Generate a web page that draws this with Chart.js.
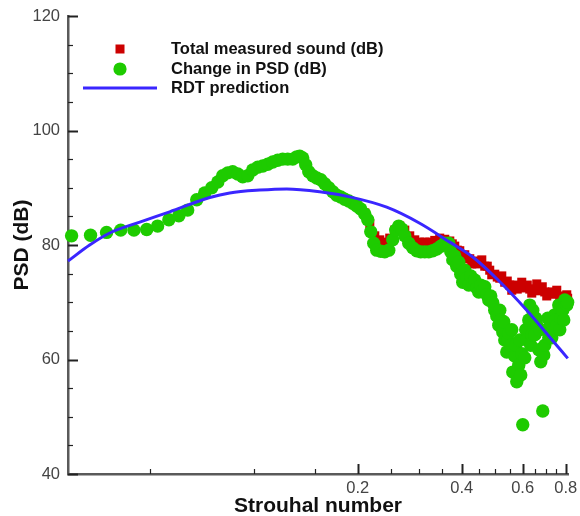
<!DOCTYPE html>
<html><head><meta charset="utf-8">
<script src="https://cdn.jsdelivr.net/npm/chart.js@4"></script>
<style>html,body{margin:0;padding:0;background:#fff}</style>
</head><body>
<canvas id="c" width="580" height="516"></canvas>
<script>
// ---- data ----
const greenSt = [0.0297,0.0337,0.0375,0.0412,0.0450,0.0490,0.0527,0.0568,0.0607,0.0644,0.0684,0.0721,
  0.0756,0.0787,0.0813,0.0841,0.0869,0.0899,0.0929,0.0961,0.0993,0.1027,0.1062,0.1098,0.1135,0.1173,
  0.1213,0.1254,0.1297,0.1332,0.1359,0.1386,0.1414,0.1443,0.1482,0.1522,0.1563,0.1605,0.1649,0.1693,
  0.1739,0.1786,0.1834,0.1884,0.1934,0.1987,0.2040,0.2096,0.2138,0.2181,0.2225,0.2270,0.2331,0.2394,
  0.2459,0.2525,0.2576,0.2628,0.2682,0.2736,0.2810,0.2885,0.2963,0.3043,0.3126,0.3210,0.3297,0.3386,
  0.3478,0.3571,0.3668,0.3717,0.3767,0.3817,0.3869,0.3921,0.3973,0.4027,0.4081,0.4136,0.4191,0.4247,
  0.4304,0.4362,0.4421,0.4480,0.4540,0.4601,0.4663,0.4726,0.4789,0.4853,0.4918,0.4984,0.5051,0.5119,
  0.5153,0.5187,0.5257,0.5292,0.5327,0.5399,0.5435,0.5471,0.5544,0.5582,0.5619,0.5694,0.5732,0.5771,
  0.5848,0.5887,0.5927,0.5966,0.6006,0.6087,0.6127,0.6169,0.6251,0.6293,0.6335,0.6377,0.6420,0.6506,
  0.6550,0.6594,0.6682,0.6727,0.6772,0.6863,0.6908,0.6955,0.7048,0.7095,0.7143,0.7239,0.7287,0.7336,
  0.7434,0.7484,0.7534,0.7635,0.7686,0.7737,0.7841,0.7894,0.7946,0.8053,0.8100];
const greenDb = [81.6,81.7,82.2,82.6,82.6,82.7,83.3,84.4,85.1,86.1,87.9,89.1,
  90.0,91.0,92.1,92.6,92.8,92.4,91.9,92.1,93.1,93.6,93.8,94.1,94.5,94.8,
  95.0,95.0,95.0,95.4,95.5,95.2,94.0,92.8,92.1,91.7,91.4,90.7,90.0,89.3,
  88.7,88.4,88.0,87.7,87.3,86.8,86.3,85.4,84.4,82.3,80.3,79.1,78.9,78.8,
  79.1,80.9,82.6,83.3,82.8,81.6,80.3,79.5,79.0,78.8,78.8,78.8,79.0,79.3,
  79.8,80.3,80.3,78.8,77.4,78.1,76.3,77.0,74.9,73.5,75.6,74.2,73.0,74.6,
  73.4,73.9,72.5,71.8,73.0,72.1,72.7,71.3,70.4,71.1,69.9,68.6,67.6,66.0,
  68.6,66.9,64.8,66.6,63.4,61.3,63.4,64.6,62.5,65.2,57.8,60.6,62.5,56.1,
  59.0,63.4,57.3,61.0,48.6,60.3,65.2,63.4,66.9,69.5,62.5,64.3,68.6,64.3,
  67.2,66.0,61.7,65.2,59.6,51.0,60.8,62.5,65.2,67.2,63.8,66.6,63.8,65.2,
  67.8,66.9,66.0,69.5,65.2,67.2,68.6,66.9,70.4,69.5,70.0];

const redSt = [0.2000,0.2096,0.2167,0.2240,0.2316,0.2394,0.2475,0.2559,0.2646,0.2736,0.2828,0.2924,
  0.3023,0.3126,0.3232,0.3341,0.3454,0.3571,0.3693,0.3755,0.3817,0.3882,0.3947,0.4013,0.4081,0.4149,
  0.4219,0.4276,0.4362,0.4435,0.4510,0.4571,0.4663,0.4741,0.4820,0.4885,0.4984,0.5068,0.5153,0.5222,
  0.5327,0.5417,0.5508,0.5582,0.5694,0.5790,0.5887,0.5966,0.6087,0.6189,0.6293,0.6377,0.6506,0.6594,
  0.6727,0.6840,0.6955,0.7048,0.7190,0.7311,0.7434,0.7534,0.7686,0.7789,0.7946,0.8053,0.8100];
const redDb = [86.8,85.6,83.7,81.6,80.9,80.5,81.2,82.6,83.3,82.6,81.6,80.9,
  80.5,80.5,80.5,80.8,81.2,81.0,80.7,80.2,79.8,79.1,79.0,78.1,78.3,77.6,
  77.6,76.7,77.2,76.7,76.9,77.4,76.3,76.3,75.6,74.8,74.9,74.4,74.2,74.6,
  73.5,73.7,73.0,72.1,73.0,72.3,72.8,73.5,72.5,73.0,72.3,71.6,72.3,73.2,
  72.0,72.7,71.8,71.1,71.6,71.8,71.4,72.1,71.1,70.4,70.8,71.3,70.7];

const rdtSt = [0.0290,0.0335,0.0383,0.0468,0.0571,0.0746,0.0852,0.1041,0.1246,0.1553,0.1896,
  0.2426,0.3023,0.3693,0.4304,0.5051,0.6169,0.7190,0.8107];
const rdtDb = [77.2,80.0,82.1,84.0,85.8,88.3,89.1,89.6,89.8,89.3,88.4,
  86.6,83.8,80.5,77.9,74.1,68.6,63.9,60.2];

const xTickValues = [0.05,0.1,0.15,0.2,0.25,0.3,0.35,0.4,0.45,0.5,0.55,0.6,0.65,0.7,0.75,0.8];
const xTickLabels = ['','','','0.2','','','','0.4','','','','0.6','','','','0.8'];
const yTickValues = [40,60,80,100,120];
const legendLabels = ['Total measured sound (dB)','Change in PSD (dB)','RDT prediction'];
const xTitle = 'Strouhal number';
const yTitle = 'PSD (dB)';

// ---- styles ----
const GREEN = '#1ecb00', RED = '#cc0000', BLUE = '#3a26ff';
const FONT = "'Liberation Sans', Arial, Helvetica, sans-serif";

const pts = (xs, ys) => xs.map((x, i) => ({x: x, y: ys[i]}));

const decor = {
  id: 'decor',
  afterDatasetsDraw(chart) {
    const {ctx, scales: {x, y}, chartArea: a} = chart;
    ctx.save();
    ctx.strokeStyle = '#222';
    for (let v = 40; v <= 120; v += 5) {
      const py = Math.round(y.getPixelForValue(v)) + 0.5;
      const major = yTickValues.includes(v);
      ctx.lineWidth = major ? 2 : 1.2;
      ctx.beginPath(); ctx.moveTo(a.left, py); ctx.lineTo(a.left + (major ? 10 : 5), py); ctx.stroke();
    }
    xTickValues.forEach((v, i) => {
      const px = Math.round(x.getPixelForValue(v)) + 0.5;
      const major = xTickLabels[i] !== '';
      ctx.lineWidth = major ? 2 : 1.2;
      ctx.beginPath(); ctx.moveTo(px, a.bottom); ctx.lineTo(px, a.bottom - (major ? 10 : 5)); ctx.stroke();
    });
    // legend
    ctx.fillStyle = RED;
    ctx.fillRect(115.5, 44.5, 9, 9);
    ctx.fillStyle = GREEN;
    ctx.beginPath(); ctx.arc(120, 69, 6.6, 0, Math.PI * 2); ctx.fill();
    ctx.strokeStyle = BLUE; ctx.lineWidth = 3;
    ctx.beginPath(); ctx.moveTo(83, 88); ctx.lineTo(157, 88); ctx.stroke();
    ctx.fillStyle = '#111';
    ctx.font = 'bold 16.5px ' + FONT;
    ctx.textBaseline = 'middle';
    ctx.textAlign = 'left';
    ctx.fillText(legendLabels[0], 171, 49);
    ctx.fillText(legendLabels[1], 171, 69);
    ctx.fillText(legendLabels[2], 171, 88);
    ctx.restore();
  }
};

new Chart(document.getElementById('c'), {
  type: 'scatter',
  data: {
    datasets: [
      {label: legendLabels[2], data: pts(rdtSt, rdtDb), showLine: true, borderColor: BLUE, borderWidth: 3,
       pointRadius: 0, cubicInterpolationMode: 'monotone', order: 0, clip: false},
      {label: legendLabels[1], data: pts(greenSt, greenDb), backgroundColor: GREEN, borderWidth: 0,
       pointRadius: 6.7, pointStyle: 'circle', order: 1, clip: false},
      {label: legendLabels[0], data: pts(redSt, redDb), backgroundColor: RED, borderWidth: 0,
       pointRadius: 6.4, pointStyle: 'rect', order: 2, clip: false}
    ]
  },
  options: {
    responsive: false,
    animation: false,
    devicePixelRatio: 1,
    layout: {padding: {top: 16, right: 12, left: 0, bottom: 0}},
    plugins: {legend: {display: false}, tooltip: {enabled: false}},
    elements: {point: {hoverRadius: 0}},
    scales: {
      x: {
        type: 'logarithmic', min: 0.029, max: 0.812,
        afterFit: s => { s.height = 42; s.paddingLeft = 0; s.paddingRight = 0; },
        afterBuildTicks: s => { s.ticks = xTickValues.map(v => ({value: v})); },
        grid: {display: false, drawTicks: false},
        border: {display: true, color: '#5a5a5a', width: 2.5},
        ticks: {
          autoSkip: false, maxRotation: 0, padding: 5, color: '#444',
          font: {family: FONT, size: 16.5},
          callback: (v) => { const i = xTickValues.findIndex(t => Math.abs(t - v) < 1e-6); return i >= 0 ? xTickLabels[i] : ''; }
        },
        title: {display: true, text: xTitle, color: '#111', font: {family: FONT, size: 21, weight: 'bold', lineHeight: 0.8}, padding: {top: 0, bottom: 1}}
      },
      y: {
        min: 40, max: 120,
        afterFit: s => { s.width = 68; s.paddingTop = 0; s.paddingBottom = 0; },
        afterBuildTicks: s => { s.ticks = yTickValues.map(v => ({value: v})); },
        grid: {display: false, drawTicks: false},
        border: {display: true, color: '#5a5a5a', width: 2.5},
        ticks: {padding: 8, color: '#444', font: {family: FONT, size: 16.5}},
        title: {display: true, text: yTitle, color: '#111', font: {family: FONT, size: 21, weight: 'bold', lineHeight: 1.2}, padding: {top: 10, bottom: 0}}
      }
    }
  },
  plugins: [decor]
});
</script>
</body></html>
